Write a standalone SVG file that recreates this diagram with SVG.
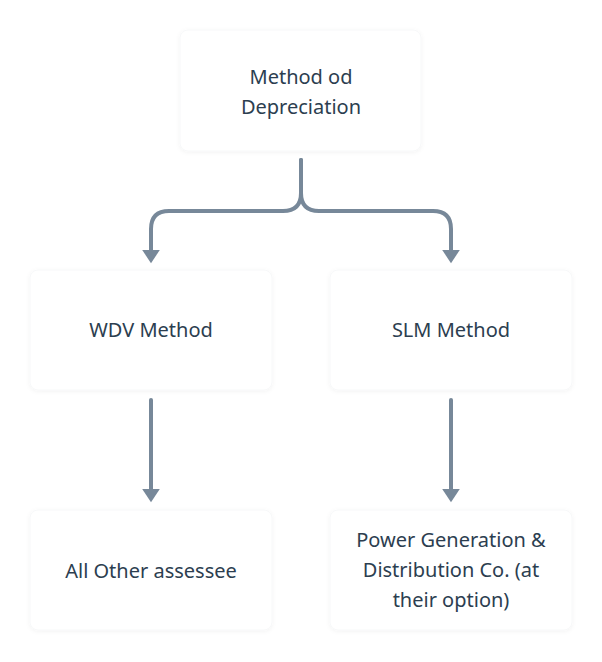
<svg xmlns="http://www.w3.org/2000/svg" width="602" height="662" viewBox="0 0 602 662">
<defs>
<filter id="sh" x="-10%" y="-10%" width="120%" height="130%">
<feDropShadow dx="0" dy="1" stdDeviation="2" flood-color="#000" flood-opacity="0.05"/>
</filter>
<marker id="ah" markerWidth="4.4" markerHeight="4.4" refX="1" refY="2.2" orient="auto" markerUnits="strokeWidth" viewBox="0 0 4.4 4.4">
<path d="M0,0 L3.3,2.2 L0,4.4 Z" fill="#778899"/>
</marker>
<style>
.box{fill:#fff;stroke:#f7f8f9;stroke-width:1;filter:url(#sh)}
.t{font-family:"Noto Sans","DejaVu Sans",sans-serif;font-size:20px;font-weight:400;fill:#2c3e50;text-anchor:middle}
.c{fill:none;stroke:#778899;stroke-width:4;stroke-linecap:round;stroke-linejoin:round}
</style>
</defs>
<rect width="602" height="662" fill="#fff"/>
<g id="n-root"><rect class="box" x="180" y="30" width="241" height="121" rx="8"/><text class="t" x="301" y="84">Method od</text><text class="t" x="301" y="114">Depreciation</text></g>
<g id="n-wdv"><rect class="box" x="30" y="270" width="242" height="120" rx="8"/><text class="t" x="151" y="337">WDV Method</text></g>
<g id="n-slm"><rect class="box" x="330" y="270" width="242" height="120" rx="8"/><text class="t" x="451" y="337">SLM Method</text></g>
<g id="n-all"><rect class="box" x="30" y="510" width="242" height="120" rx="8"/><text class="t" x="151" y="578">All Other assessee</text></g>
<g id="n-power"><rect class="box" x="330" y="510" width="242" height="120" rx="8"/><text class="t" x="451" y="547">Power Generation &amp;</text><text class="t" x="451" y="577">Distribution Co. (at</text><text class="t" x="451" y="607">their option)</text></g>
<g id="connectors">
<path class="c" d="M301,160 V193 Q301,211 283,211 H169 Q151,211 151,229 V254" marker-end="url(#ah)"/>
<path class="c" d="M301,160 V193 Q301,211 319,211 H433 Q451,211 451,229 V254" marker-end="url(#ah)"/>
<path class="c" d="M151,400 V493" marker-end="url(#ah)"/>
<path class="c" d="M451,400 V493" marker-end="url(#ah)"/>
</g>
</svg>
